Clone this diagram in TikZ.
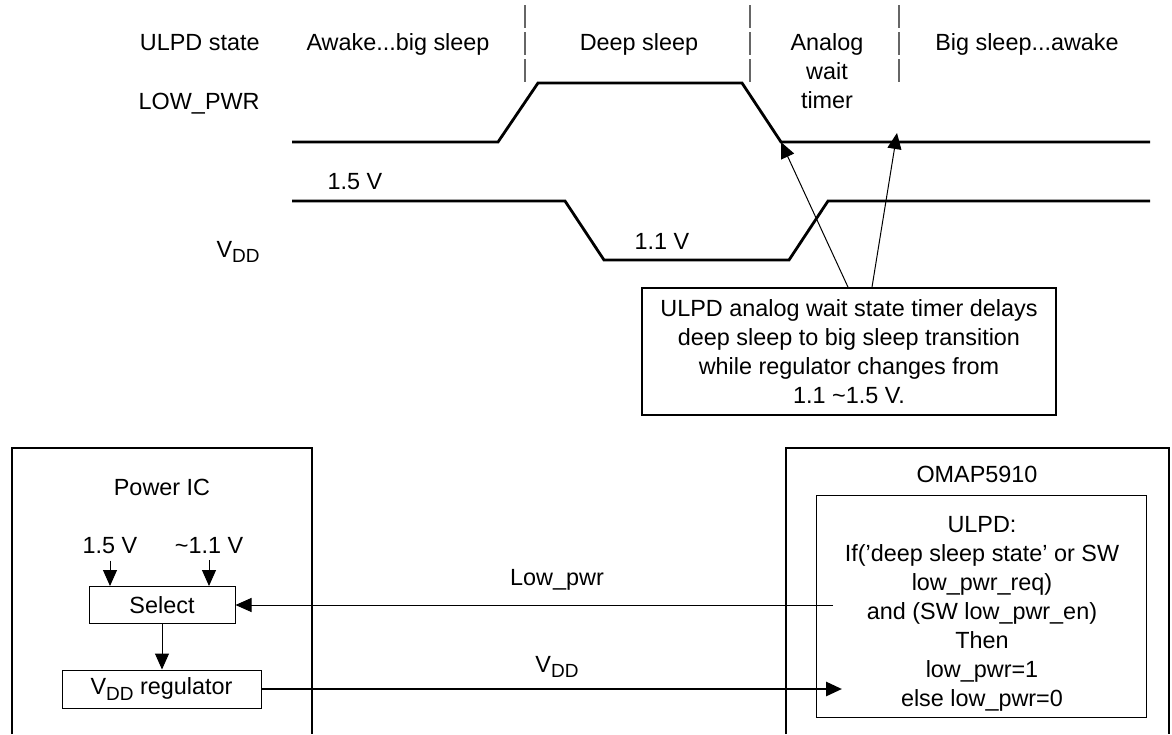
\documentclass[tikz,border=0pt]{standalone}
\usepackage{fontspec}
\setmainfont{Liberation Sans}
\usetikzlibrary{arrows.meta, positioning, calc}

\newcommand{\vddtxt}{V\raisebox{-2.8pt}{\fontsize{9.5}{9.5}\selectfont DD}}

\begin{document}
\begin{tikzpicture}[
        x=0.5pt, y=-0.5pt,
        font=\fontsize{11.7}{14.5}\selectfont,
        >={Triangle[length=8pt, width=7pt]},
        txt/.style={inner sep=0pt},
        rlbl/.style={txt, anchor=base east},
        clbl/.style={txt, anchor=base},
        wave/.style={line width=1.4pt},
        sepline/.style={black!60, line width=0.65pt, dash pattern=on 11.5pt off 2pt},
        chip/.style={line width=0.9pt},
        blk/.style={draw, line width=0.5pt, inner sep=0pt},
        note/.style={draw, line width=0.9pt, align=center, inner sep=0pt},
        sig/.style={->, line width=0.5pt},
        bus/.style={->, line width=1.4pt},
    ]
    \useasboundingbox (0,0) rectangle (1172,734);

    % state row
    \node[rlbl] (st) at (260,50) {ULPD state};
    \node[clbl] (s1) at (398,50) {Awake...big sleep};
    \node[clbl] (s2) at (639,50) {Deep sleep};
    \node[txt, align=center] (s3) at (827,71.5) {Analog\\wait\\timer};
    \node[clbl] (s4) at (1027,50) {Big sleep...awake};
    \foreach \x in {525,750,899}
        \draw[sepline] (\x,5) -- (\x,83);

    % LOW_PWR
    \node[rlbl] (lp) at (260,109) {LOW\_PWR};
    \draw[wave] (292,142) -- (498,142) -- (538,83) -- (742,83) -- (781,142) coordinate (lpfall) -- (1150,142);
    \coordinate (lpbig) at (897,133);

    % VDD
    \node[rlbl] (vd) at (260,257) {\vddtxt};
    \node[clbl] (hi) at (355,189) {1.5 V};
    \node[clbl] (lo) at (662,249) {1.1 V};
    \draw[wave] (292,201) -- (565,201) -- (604,260) -- (789,260) -- (828,201) -- (1150,201);

    \node[note, minimum width=207pt, minimum height=63.5pt] (note) at (849,351.5) {ULPD analog wait state timer delays\\deep sleep to big sleep transition\\while regulator changes from\\1.1 \textasciitilde1.5 V.};
    \draw[sig] ([xshift=-0.5pt]note.north) -- (lpfall);
    \draw[sig] ([xshift=11.5pt]note.north) -- (lpbig);

    % Power IC
    \draw[chip] (12,734) |- (312,448) -- (312,734);
    \node[clbl] (pic) at (162,495) {Power IC};
    \node[blk, minimum width=73pt, minimum height=18.5pt] (sel) at (162,605) {Select};
    \node[blk, minimum width=99.5pt, minimum height=19pt] (reg) at (161.5,689) {\vddtxt{} regulator};
    \node[clbl] (in1) at (110,553) {1.5 V};
    \node[clbl] (in2) at (209,553) {\textasciitilde1.1 V};
    \draw[sig] ([yshift=-3.5pt]in1.south) -- (in1.south |- sel.north);
    \draw[sig] ([yshift=-3.5pt]in2.south) -- (in2.south |- sel.north);
    \draw[sig] (sel.south) -- (sel.south |- reg.north);

    % OMAP5910
    \draw[chip] (786,734) |- (1169,448) -- (1169,734);
    \node[clbl] (omap) at (977,482) {OMAP5910};
    \node[blk, minimum width=165pt, minimum height=111pt] (ulpd) at (981,606) {};
    \node[txt, align=center] (ulpdtxt) at (982,613.5) {ULPD:\\If('deep sleep state' or SW\\low\_pwr\_req)\\and (SW low\_pwr\_en)\\Then\\low\_pwr=1\\else low\_pwr=0};

    % signals between the chips
    \coordinate (lpsrc) at (833,605);
    \draw[sig] (lpsrc) -- (lpsrc -| sel.east);
    \node[clbl] (lpl) at (557,585) {Low\_pwr};
    \coordinate (vddin) at (842,689);
    \draw[bus] (reg.east) -- (vddin);
    \node[clbl] (vdl) at (557,672) {\vddtxt};
\end{tikzpicture}
\end{document}
